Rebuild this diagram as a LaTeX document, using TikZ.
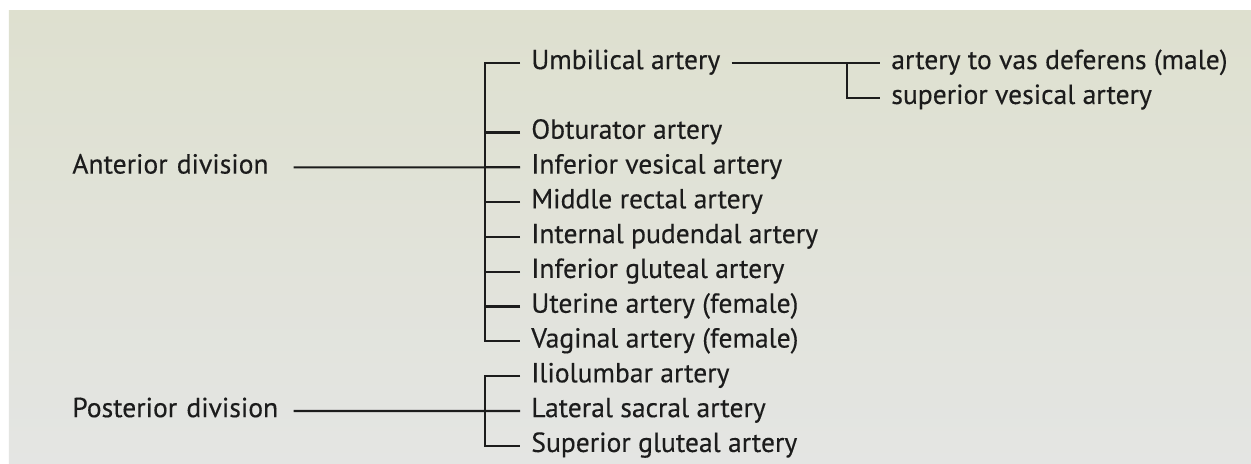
\documentclass[tikz,border=0pt]{standalone}
\usepackage{fontspec}
\setmainfont{PT Sans}[FakeBold=0.3]

\definecolor{bgTop}{RGB}{222,224,207}
\definecolor{bgBottom}{RGB}{228,229,227}
\definecolor{ink}{RGB}{28,28,28}

\begin{document}
\begin{tikzpicture}[
  division/.style={anchor=west, text width=4.42cm, align=left, inner xsep=0pt, text height=0.9em, text depth=0.2em, font=\fontsize{15.7}{19}\selectfont, text=ink},
  branch/.style={anchor=west, inner xsep=0.22cm, text height=0.9em, text depth=0.2em, font=\fontsize{15.7}{19}\selectfont, text=ink},
  link/.style={draw=ink, line width=1.25pt}
]

% Background
\useasboundingbox (0,0) rectangle (25.02,-9.28);
\fill[white] (0,0) rectangle (25.02,-9.28);
\shade[top color=bgTop, bottom color=bgBottom] (0.18,-0.22) rectangle (25.02,-9.28);

% Divisions
\node[division] (antDiv) at (1.44,-3.348) {Anterior division};
\node[division] (postDiv) at (1.44,-8.22) {Posterior division};

% Anterior branches
\foreach \name/\k/\txt in {art1/0/Umbilical artery, art2/2/Obturator artery, art3/3/Inferior vesical artery, art4/4/Middle rectal artery, art5/5/Internal pudendal artery, art6/6/Inferior gluteal artery, art7/7/Uterine artery (female), art8/8/Vaginal artery (female)}
  \node[branch] (\name) at (10.4,{-1.26-0.696*\k}) {\txt};

% Posterior branches
\foreach \name/\k/\txt in {post1/9/Iliolumbar artery, post2/10/Lateral sacral artery, post3/11/Superior gluteal artery}
  \node[branch] (\name) at (10.4,{-1.26-0.696*\k}) {\txt};

% Umbilical branches
\node[branch] (vas) at (17.6,-1.26) {artery to vas deferens (male)};
\node[branch] (ves) at (17.6,-1.956) {superior vesical artery};

% Bracket positions
\coordinate (antBr) at (9.7,0);
\coordinate (umbBr) at (16.94,0);

% Anterior bracket
\draw[link] (art1.west) -- (art1.west -| antBr) |- (art8.west);
\foreach \i in {2,...,7}
  \draw[link] (art\i.west) -- (art\i.west -| antBr);
\draw[link] (antDiv.east) -- (art3.west);

% Posterior bracket
\draw[link] (post1.west) -- (post1.west -| antBr) |- (post3.west);
\draw[link] (postDiv.east) -- (post2.west);

% Umbilical bracket
\draw[link] (art1.east) -- (vas.west);
\draw[link] (vas.west -| umbBr) |- (ves.west);

\end{tikzpicture}
\end{document}
